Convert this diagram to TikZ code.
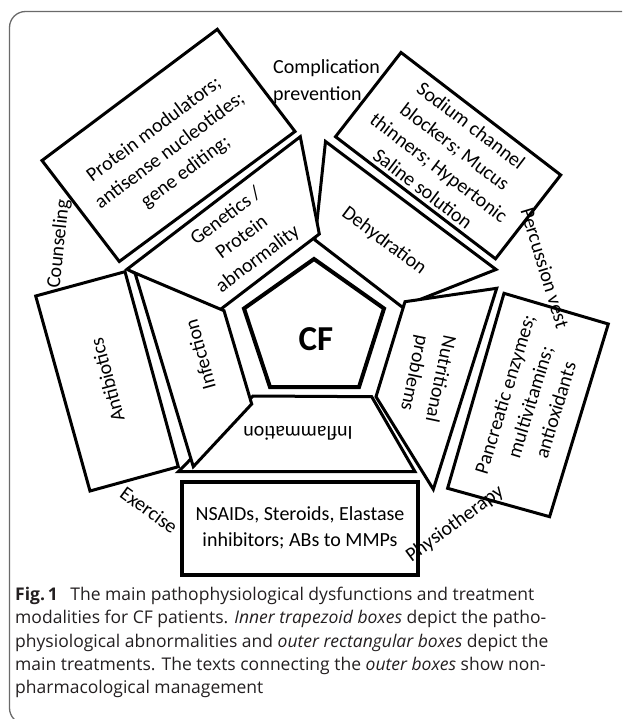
\documentclass[tikz,border=0pt]{standalone}
\usepackage{fontspec}
\setmainfont{Carlito}
\newfontfamily\capfont{Open Sans}
\usepackage{xcolor}
\usepackage{tikz}
\definecolor{figframe}{HTML}{6A6A6A}
\definecolor{captext}{HTML}{231F20}
\tikzset{
  treatbox/.style={draw=black,fill=white,line width=3pt,line join=miter},
  trapbox/.style={draw=black,fill=white,line width=3pt,line join=miter},
  corebox/.style={draw=black,fill=white,line width=4pt,line join=miter},
  boxtext/.style={font=\fontsize{20}{26.5}\selectfont,align=center,inner sep=0pt},
  mgmt/.style={font=\fontsize{20}{26.5}\selectfont,inner sep=0pt},
  capline/.style={anchor=base west,inner sep=0pt,text=captext,
    font=\capfont\fontsize{17.5}{23}\selectfont}
}

\begin{document}
\begin{tikzpicture}[x=1pt,y=-1pt]
  \useasboundingbox (0,0) rectangle (622,719);
  \clip (0,0) rectangle (622,719);
  \draw[figframe,line width=1.3pt,rounded corners=16pt] (9.5,11.5) rectangle (660,724);
  % outer boxes: treatments
  \draw[treatbox] (217.3,29.3) -- (295,131.5) -- (119.3,261.5) -- (42,160.5) -- cycle;
  \draw[treatbox] (401,52.5) -- (560.7,175) -- (495.5,258.8) -- (335.5,136.7) -- cycle;
  \draw[treatbox] (35.7,296) -- (125,271.7) -- (178.3,466.7) -- (90,491) -- cycle;
  \draw[treatbox] (504,293.3) -- (608.3,324) -- (549.6,516.7) -- (447.6,488.3) -- cycle;
  \draw[corebox] (181.7,481.7) rectangle (418.3,575);
  % inner trapezoids: abnormalities
  \draw[trapbox] (325.5,141.5) -- (496,269.5) -- (401.7,306.7) -- (315,240) -- cycle;
  \draw[trapbox] (300.3,136.7) -- (319.3,234) -- (215.4,313.3) -- (127,269.3) -- cycle;
  \draw[trapbox] (405,301.7) -- (496.7,288.3) -- (433.3,489.3) -- (376,396.7) -- cycle;
  \draw[trapbox] (253,396) -- (371.7,396.7) -- (415,471.7) -- (178.3,471.7) -- cycle;
  \draw[trapbox] (135,273) -- (224,310.7) -- (251.7,404) -- (193.3,466.7) -- cycle;
  % centre
  \draw[corebox] (314,259) -- (384,308.5) -- (359,387) -- (270,387) -- (244,308.5) -- cycle;
  \node[font=\fontsize{35}{35}\selectfont\bfseries,inner sep=0pt] (cf) at (316,339) {CF};

  \node[boxtext,rotate=36.8] (protein) at (170,151)
    {Protein modulators;\\antisense nucleotides;\\gene editing;};
  \node[boxtext,rotate=-37.3] (sodium) at (447,157)
    {Sodium channel\\blockers; Mucus\\thinners; Hypertonic\\Saline solution};
  \node[boxtext,rotate=105] (antibio) at (107,380) {Antibiotics};
  \node[boxtext,rotate=73] (pancreas) at (530,402)
    {Pancreatic enzymes;\\multivitamins;\\antioxidants};
  \node[boxtext] (nsaid) at (300,528)
    {NSAIDs, Steroids, Elastase\\inhibitors; ABs to MMPs};

  \node[boxtext,rotate=36.8] (genetics) at (242,238) {Genetics /\\Protein\\abnormality};
  \node[boxtext,rotate=-37] (dehyd) at (384,241) {Dehydration};
  \node[boxtext,rotate=105.5] (infect) at (200,355) {Infection};
  \node[boxtext,rotate=-102] (nutri) at (427,376) {Nutritional\\problems};
  \node[boxtext,rotate=180] (inflam) at (298,433) {Inflammation};

  \node[mgmt,anchor=west,align=left] (prevent) at (273,81.5) {Complication\\prevention};
  \node[mgmt,rotate=84] (counsel) at (59,244) {Counseling};
  \node[mgmt,rotate=-73] (percuss) at (545,268) {Percussion vest};
  \node[mgmt,rotate=-36] (exercise) at (149,510) {Exercise};
  \node[mgmt,rotate=36] (physio) at (455,524) {Physiotherapy};

  % caption
  \node[capline] (cap1) at (15,600.7)
    {\textbf{Fig.\,1}\hspace{0.45em} The main pathophysiological dysfunctions and treatment};
  \node[capline] (cap2) at (15,623.9)
    {modalities for CF patients. \textit{Inner trapezoid boxes} depict the patho-};
  \node[capline] (cap3) at (15,647)
    {physiological abnormalities and \textit{outer rectangular boxes} depict the};
  \node[capline] (cap4) at (15,670.2)
    {main treatments. The texts connecting the \textit{outer boxes} show non-};
  \node[capline] (cap5) at (15,693.3) {pharmacological management};
\end{tikzpicture}
\end{document}
